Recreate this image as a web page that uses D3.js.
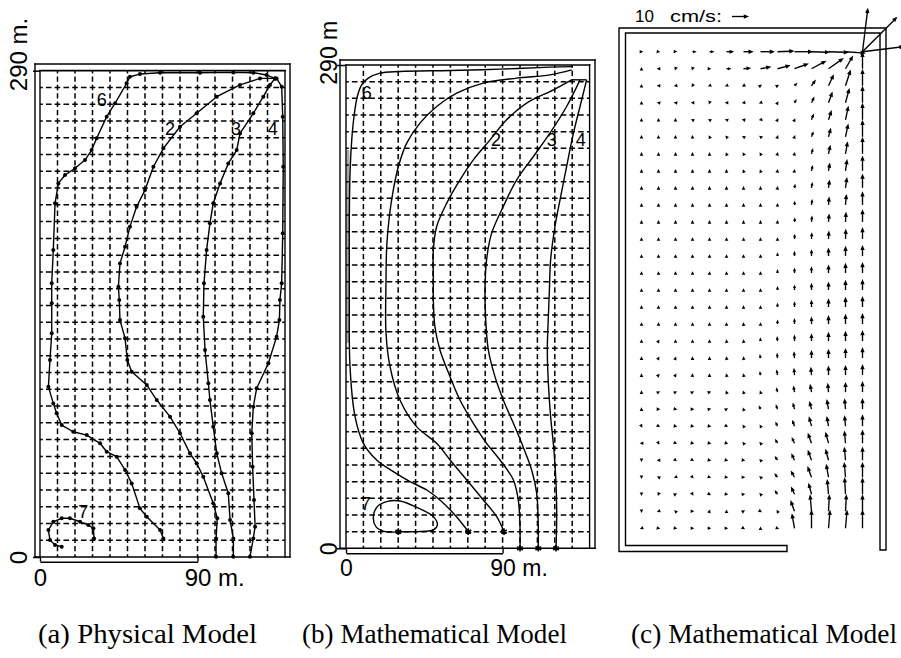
<!DOCTYPE html>
<html>
<head>
<meta charset="utf-8">
<script src="https://cdn.jsdelivr.net/npm/d3@7"></script>
<style>
  html, body { margin: 0; padding: 0; background: #fff; }
  svg { display: block; }
</style>
</head>
<body>
<svg id="fig" width="901" height="658"></svg>
<script>
// ---------------------------------------------------------------
// Float trajectories in the basin, metres: [x across, y along]
// ---------------------------------------------------------------
const physTrack6 = [[70.5,11.1],[68.6,16.1],[61.0,24.0],[57.1,29.0],[52.4,43.9],[48.6,51.9],[43.8,59.8],[38.1,62.8],[34.3,67.8],[26.7,72.7],[19.0,74.7],[12.4,78.7],[9.5,85.7],[7.6,91.6],[4.8,101.6],[5.7,117.5],[6.7,133.4],[6.7,151.3],[6.7,163.2],[7.6,183.1],[8.6,210.9],[10.5,222.8],[14.3,227.8],[20.0,231.8],[25.7,236.7],[29.5,242.7],[32.4,249.7],[38.1,262.6],[42.9,270.6],[49.5,282.5],[51.4,286.4],[57.1,288.0],[68.6,288.8],[91.4,288.8],[110.5,289.0],[121.9,288.8],[129.5,287.4],[134.3,285.4]];
const physTrack2 = [[100.6,0.2],[100.6,11.1],[101.3,23.1],[99.0,32.0],[93.3,47.9],[89.5,55.9],[85.7,61.8],[80.0,73.8],[74.3,83.7],[66.7,93.6],[61.0,102.6],[52.4,110.5],[49.9,117.5],[48.6,130.4],[45.7,141.3],[45.3,153.3],[44.8,161.2],[45.7,175.1],[48.6,185.0],[51.4,197.0],[55.2,208.9],[60.0,218.8],[64.8,232.7],[70.5,243.7],[80.0,256.6],[89.5,264.6],[101.0,274.5],[114.3,281.5],[125.7,285.4],[134.3,285.4]];
const physTrack3 = [[110.5,0.2],[110.5,11.1],[108.6,22.1],[107.6,38.0],[103.8,49.9],[101.0,61.8],[99.0,77.7],[97.1,93.6],[96.2,103.6],[94.3,123.4],[93.3,143.3],[93.7,163.2],[95.2,183.1],[97.1,199.0],[99.0,210.9],[102.9,222.8],[107.6,234.7],[112.4,242.7],[114.3,252.6],[121.9,264.6],[127.6,274.5],[131.4,281.5],[134.3,285.4]];
const physTrack4 = [[120.0,0.2],[121.9,11.1],[122.9,18.1],[122.3,34.0],[121.5,53.8],[121.0,73.8],[121.9,89.6],[123.8,100.6],[130.5,115.5],[135.2,131.4],[136.8,141.3],[137.1,153.3],[138.1,163.2],[138.7,193.0],[139.0,232.7],[138.7,262.6],[138.1,280.5],[135.2,285.4]];
const physTrack7 = [[30.9,11.1],[30.5,17.1],[27.6,19.1],[22.9,21.0],[17.1,23.1],[12.4,23.1],[7.6,21.0],[4.8,16.1],[5.7,10.1],[8.6,7.2],[12.4,6.1]];

const mathTrack6 = [[70.3,10.0],[67.4,14.0],[61.7,21.0],[54.0,29.0],[46.4,35.0],[36.8,40.0],[27.2,46.0],[17.6,53.0],[10.0,63.0],[5.2,79.0],[2.3,109.0],[1.9,149.0],[1.9,165.1],[1.9,195.1],[2.3,225.1],[3.3,245.1],[4.6,259.1],[6.5,271.1],[9.0,278.1],[12.8,282.1],[19.5,285.1],[31.0,286.1],[59.8,286.7],[88.5,287.5],[117.2,288.7],[130.3,289.0]];
const mathTrack5 = [[90.8,10.0],[86.6,19.0],[78.9,29.0],[69.4,41.0],[59.8,53.0],[52.1,63.0],[40.6,73.0],[31.0,89.0],[25.3,109.0],[23.0,129.0],[23.0,161.1],[23.4,181.1],[24.9,199.1],[27.2,215.1],[30.1,229.1],[34.9,243.1],[42.5,255.1],[52.1,265.1],[63.6,273.1],[78.9,279.1],[98.1,282.1],[117.2,284.1],[129.7,287.1]];
const mathTrack2 = [[100.0,0],[100.0,13.0],[99.0,29.0],[96.2,41.0],[88.5,53.0],[80.8,63.0],[73.2,75.0],[65.5,89.0],[59.8,103.0],[54.0,119.0],[51.1,133.0],[50.2,149.0],[50.2,161.1],[50.2,179.1],[52.1,193.1],[57.9,207.1],[65.5,221.1],[73.2,233.1],[82.8,245.1],[92.3,257.1],[103.8,267.1],[119.2,275.1],[129.7,281.1]];
const mathTrack3 = [[110.5,0],[110.5,13.0],[109.6,33.0],[106.7,47.0],[101.0,63.0],[96.2,75.0],[90.4,89.0],[85.6,103.0],[81.8,119.0],[80.2,139.0],[79.9,155.1],[80.8,173.1],[83.7,189.1],[90.4,205.1],[98.1,221.1],[107.7,235.1],[117.2,249.1],[126.8,265.1],[134.5,281.1]];
const mathTrack4 = [[120.7,0],[121.1,19.0],[120.7,39.0],[119.5,59.0],[117.6,79.0],[116.3,99.0],[115.7,119.0],[116.3,139.0],[116.9,155.1],[117.6,173.1],[120.1,193.1],[123.0,209.1],[126.8,229.1],[130.7,249.1],[134.5,265.1],[138.3,281.1]];
const mathTrack7 = [[30.1,10.0],[40.6,10.0],[50.2,11.0],[52.5,14.0],[50.2,19.0],[40.6,24.6],[31.0,28.4],[23.4,28.0],[18.0,25.0],[15.7,19.0],[17.2,13.0],[22.4,10.0],[30.1,10.0]];
const mathInletBar = [[129.7,281.1],[138.3,281.1]];

// Track labels: text and anchor point (metres)
const physLabels = [["6",35.3,272.9],["2",74.3,255.8],["3",112.0,255.8],["4",133.0,255.8],["7",24.7,27.0]];
const mathLabels = [["6",11.9,273.6],["2",86.2,245.1],["3",118.2,245.1],["4",134.9,245.1],["7",11.4,26.6]];

// Axis ticks
const xTickValues = [0, 90];
const xTickLabels = ["0", "90 m."];
const yTickValues = [0, 290];
const yTickLabelsA = ["0", "290 m."];
const yTickLabelsB = ["0", "290 m"];

// ---------------------------------------------------------------
// Computed velocity field: cell centres (m), speed (cm/s),
// direction (degrees clockwise from up-basin)
// ---------------------------------------------------------------
const gridXm = [5,15,25,35,45,55,65,75,85,95,105,115,125,135];
const gridYm = [285,275,265,255,245,235,225,215,205,195,185,175,165,155,145,135,125,115,105,95,85,75,65,55,45,35,25,15,5];
const speedRows = [
  [1,1.5,2,2.5,3,4.5,6,8.5,10,11,11,12,12,26],
  [0.8,0.8,0.8,0.8,1.5,3,4.5,6.5,8,9,10,11,9,10],
  [0.8,0.8,0.8,0.8,0.8,0.8,0.8,1,1.5,2.5,4.5,7.5,10,10],
  [0.8,0.8,0.8,0.8,0.8,0.8,0.8,0.8,1,2.5,4,7,9,10],
  [0.8,0.8,0.8,0.8,0.8,0.8,0.8,0.8,1,2,4,6,8.5,10],
  [0.8,0.8,0.8,0.8,0.8,0.8,0.8,0.8,1,2,3.5,5.5,8,10],
  [0.8,0.8,0.8,0.8,0.8,0.8,0.8,0.8,1,1.8,3.5,5.5,7.5,10],
  [0.8,0.8,0.8,0.8,0.8,0.8,0.8,0.8,1.2,2,3.5,5,7,9],
  [0.8,0.8,0.8,0.8,0.8,0.8,0.8,1,1.3,2.5,3.5,5,6.5,8.5],
  [0.8,0.8,0.8,0.8,0.8,0.8,0.8,1,1.5,2.5,3.5,5,6.5,8],
  [0.8,0.8,0.8,0.8,0.8,0.8,1,1.2,1.8,2.8,3.8,5,6,7.5],
  [0.8,0.8,0.8,0.8,0.8,0.8,1,1.3,2,3,4,5,6,7],
  [0.8,0.8,0.8,0.8,0.8,1,1.2,1.5,2.2,3,4,5,6,6.5],
  [0.8,0.8,0.8,0.8,0.8,1,1.2,1.6,2.3,3.2,4,5,6,6.5],
  [0.8,0.8,0.8,0.8,0.8,1,1.3,1.7,2.4,3.3,4.2,5,6,6.5],
  [0.8,0.8,0.8,0.8,0.8,1,1.3,1.8,2.5,3.4,4.3,5.2,6,6.5],
  [0.8,0.8,0.8,0.8,1,1.2,1.5,2,2.7,3.5,4.5,5.3,6,6.5],
  [0.8,0.8,0.8,0.8,1,1.2,1.6,2.2,3,3.8,4.6,5.5,6,6.5],
  [0.8,0.8,0.8,0.8,1,1.2,1.7,2.4,3.2,4,4.8,5.5,6,6.5],
  [0.8,0.8,0.8,0.8,1,1.3,1.8,2.5,3.4,4.3,5,5.7,6,6.5],
  [0.8,0.8,0.8,0.8,0.8,1,1.5,2,3,4,5,5.5,6,6.5],
  [0.8,0.8,0.8,0.8,0.8,0.8,1.5,2.5,3,4,5,6,6.5,6.5],
  [0.8,0.8,0.8,0.8,0.8,0.8,1.2,2,3,4,6,6,6.5,7],
  [0.8,0.8,0.8,0.8,0.8,0.8,1,1.5,3,4,6.5,7,7.5,8],
  [0.8,0.8,0.8,0.8,0.8,0.8,0.8,1.5,3,4.5,6.5,7,8,8],
  [0.8,0.8,0.8,0.8,0.8,0.8,0.8,1.5,3,4.5,7,8,9,9],
  [0.8,0.8,0.8,0.8,0.8,0.8,0.8,1.5,3,5,7,9,10,10],
  [0.8,0.8,0.8,0.8,0.8,0.8,0.8,0.8,2,7,10,10,10,10],
  [0.8,0.8,0.8,0.8,0.8,0.8,0.8,0.8,0.8,9,11,11,11,11]
];
const angleRows = [
  [90,100,95,90,90,90,90,90,88,90,92,92,94,7],
  [0,270,200,200,90,90,85,80,75,70,62,55,30,0],
  [0,270,260,210,250,250,240,60,60,45,35,25,18,0],
  [0,280,280,270,200,270,260,250,30,30,25,20,15,0],
  [0,0,0,300,300,290,280,260,30,25,20,18,12,0],
  [0,0,0,0,330,320,300,310,20,20,20,15,12,0],
  [0,0,0,0,0,340,330,330,15,15,15,12,10,0],
  [0,0,0,0,0,0,340,340,10,15,12,10,8,0],
  [0,0,0,0,0,0,0,0,10,10,10,8,8,0],
  [0,0,0,0,0,0,0,0,5,5,8,5,5,0],
  [0,0,0,0,0,0,0,0,5,5,5,5,3,0],
  [0,0,0,0,0,0,0,0,0,3,3,3,2,0],
  [0,0,0,0,0,0,0,0,0,0,0,0,0,0],
  [0,0,0,0,0,0,0,0,0,0,0,0,0,0],
  [0,0,0,0,0,0,0,0,0,0,0,0,0,0],
  [0,0,0,0,0,0,0,0,0,0,0,0,0,0],
  [0,0,0,0,0,0,-5,0,0,0,0,0,0,0],
  [0,30,0,0,0,-10,-10,-5,-5,0,0,0,0,0],
  [0,30,20,0,0,-10,-10,-10,-5,-5,0,0,0,0],
  [0,40,30,10,0,-15,-15,-10,-10,-5,-5,0,0,0],
  [0,60,60,60,70,-20,-20,-20,-15,-10,-10,-5,0,0],
  [0,90,100,90,80,60,-20,-25,-20,-15,-15,-10,-5,0],
  [150,120,100,100,100,120,-30,-30,-25,-20,-15,-10,-5,0],
  [270,150,120,100,100,100,-40,-40,-30,-25,-20,-15,-5,0],
  [180,270,130,120,100,100,100,-45,-35,-25,-20,-15,-5,0],
  [180,300,250,140,110,100,90,-50,-40,-30,-20,-10,-5,0],
  [180,200,60,150,120,100,80,-40,-35,-25,-15,-5,-3,0],
  [180,250,320,90,20,0,60,120,-30,-20,-5,3,3,0],
  [250,100,100,90,90,90,120,0,110,-10,0,5,5,0]
];
// extra jets leaving the inlet cell (top-right corner)
const inletJets = [[29,45],[25,83]];
const refSpeed = 10;

const captions = ["(a) Physical Model", "(b) Mathematical Model", "(c) Mathematical Model"];

// ---------------------------------------------------------------
const svg = d3.select("#fig");
const ink = "#000";
svg.append("rect").attr("width", 901).attr("height", 658).attr("fill", "#fff");

const xA = d3.scaleLinear().domain([0, 140]).range([40, 285]);
const yA = d3.scaleLinear().domain([0, 290]).range([557, 70.7]);
const xB = d3.scaleLinear().domain([0, 140]).range([346, 589.6]);
const yB = d3.scaleLinear().domain([0, 290]).range([548.3, 65]);
const xC = d3.scaleLinear().domain([0, 140]).range([633, 871]);
const yC = d3.scaleLinear().domain([0, 290]).range([536.8, 43.2]);
const speedPx = d3.scaleLinear().domain([0, 10]).range([0, 17]);

function seg(g, x1, y1, x2, y2, w) {
  g.append("line").attr("x1", x1).attr("y1", y1).attr("x2", x2).attr("y2", y2)
    .attr("stroke", ink).attr("stroke-width", w || 1.4).attr("stroke-linecap", "square");
}

// dashed 10 m grid inside a basin
function dashedGrid(g, xS, yS) {
  const cw = xS(10) - xS(0), ch = yS(0) - yS(10);
  const gx = d3.range(10, 140, 10), gy = d3.range(10, 290, 10);
  const ph = cw / 2, pv = ch / 2;
  g.append("g").selectAll("line").data(gx).join("line")
    .attr("x1", d => xS(d)).attr("x2", d => xS(d))
    .attr("y1", yS(290)).attr("y2", yS(0))
    .attr("stroke", ink).attr("stroke-width", 1.5)
    .attr("stroke-dasharray", `${pv * 0.64},${pv * 0.36}`)
    .attr("stroke-dashoffset", pv * 0.32);
  g.append("g").selectAll("line").data(gy).join("line")
    .attr("x1", xS(0)).attr("x2", xS(140))
    .attr("y1", d => yS(d)).attr("y2", d => yS(d))
    .attr("stroke", ink).attr("stroke-width", 1.5)
    .attr("stroke-dasharray", `${ph * 0.64},${ph * 0.36}`)
    .attr("stroke-dashoffset", ph * 0.32);
}

// double-walled basin outline
function basinFrame(g, xS, yS, gapL, gapT, gapR) {
  const L = xS(0), R = xS(140), T = yS(290), B = yS(0);
  seg(g, L - gapL, B, R + gapR, B);
  seg(g, L - gapL, T - gapT, R + gapR, T - gapT);
  seg(g, L - gapL, T - gapT, L - gapL, B);
  seg(g, R + gapR, T - gapT, R + gapR, B);
  seg(g, L, T, L, B);
  seg(g, L, T, R, T, 1.7);
  seg(g, R, T, R, B);
}

function axes(g, xS, yS, opt) {
  const bar = d3.scaleLinear().domain([0, 90]).range([xS(0), xS(90)]);
  const ax = g.append("g").attr("transform", `translate(0,${yS(0) + opt.barGap})`)
    .call(d3.axisBottom(bar).tickValues(xTickValues).tickSizeInner(-opt.barGap).tickSizeOuter(0)
      .tickPadding(opt.xPad).tickFormat((d, i) => xTickLabels[i]));
  ax.select(".domain").attr("stroke", ink).attr("stroke-width", 1.4);
  ax.selectAll(".tick line").attr("stroke", ink).attr("stroke-width", 1.4);
  ax.attr("font-family", "'Liberation Sans', Arial, sans-serif").attr("font-size", opt.fs);
  ax.selectAll(".tick text").attr("fill", ink).attr("text-anchor", "start")
    .attr("x", d => -String(d).length * 0.278 * opt.fs);

  const ay = g.append("g").attr("transform", `translate(${xS(0)},0)`)
    .call(d3.axisLeft(yS).tickValues(yTickValues).tickSize(opt.ytick).tickSizeOuter(0)
      .tickFormat((d, i) => opt.yLabels[i]));
  ay.select(".domain").remove();
  ay.selectAll(".tick line").attr("stroke", ink).attr("stroke-width", 1.5);
  ay.attr("font-family", "'Liberation Sans', Arial, sans-serif").attr("font-size", opt.fs);
  ay.selectAll(".tick text").attr("fill", ink).attr("text-anchor", "start")
    .attr("y", 0).attr("dy", 0)
    .attr("x", d => -String(d).length * 0.278 * opt.fs)
    .attr("transform", `translate(${-opt.ylabOff},0) rotate(-90)`);
}

function trackLabels(g, xS, yS, labels, fs) {
  g.append("g").selectAll("text").data(labels).join("text")
    .attr("x", d => xS(d[1])).attr("y", d => yS(d[2]))
    .attr("dy", "0.36em").attr("text-anchor", "middle")
    .attr("font-family", "'Liberation Sans', Arial, sans-serif").attr("font-size", fs)
    .attr("fill", ink).text(d => d[0]);
}

// ---------------- (a) physical model ----------------
const gA = svg.append("g");
dashedGrid(gA, xA, yA);
basinFrame(gA, xA, yA, 5, 6.7, 5);
axes(gA, xA, yA, { barGap: 4.7, xPad: 7, fs: 24, ytick: 7, ylabOff: 13, yLabels: yTickLabelsA });

const lineA = d3.line().x(d => xA(d[0])).y(d => yA(d[1]));
[physTrack6, physTrack2, physTrack3, physTrack4, physTrack7].forEach(tr => {
  gA.append("path").attr("d", lineA(tr)).attr("fill", "none")
    .attr("stroke", ink).attr("stroke-width", 1.4).attr("stroke-linejoin", "round");
  gA.append("g").selectAll("circle").data(tr).join("circle")
    .attr("cx", d => xA(d[0])).attr("cy", d => yA(d[1])).attr("r", 2).attr("fill", ink);
});
trackLabels(gA, xA, yA, physLabels, 18);

// ---------------- (b) mathematical model ----------------
const gB = svg.append("g");
gB.append("rect").attr("x", xB(0) + 0.6).attr("y", 150).attr("width", 2.8).attr("height", 193).attr("fill", "#a8a8a8");
dashedGrid(gB, xB, yB);
basinFrame(gB, xB, yB, 6, 5, 5.4);
axes(gB, xB, yB, { barGap: 5, xPad: 6.5, fs: 23, ytick: 9, ylabOff: 9, yLabels: yTickLabelsB });

const lineB = d3.line().x(d => xB(d[0])).y(d => yB(d[1])).curve(d3.curveCatmullRom.alpha(0.5));
[mathTrack6, mathTrack5, mathTrack2, mathTrack3, mathTrack4, mathTrack7].forEach(tr => {
  gB.append("path").attr("d", lineB(tr)).attr("fill", "none")
    .attr("stroke", ink).attr("stroke-width", 1.4);
});
gB.append("path").attr("d", d3.line().x(d => xB(d[0])).y(d => yB(d[1]))(mathInletBar))
  .attr("stroke", ink).attr("stroke-width", 1.4);
const starts = [mathTrack6[0], mathTrack5[0], mathTrack2[0], mathTrack3[0], mathTrack4[0], mathTrack7[0]];
gB.append("g").selectAll("path.star").data(starts).join("path")
  .attr("transform", d => `translate(${xB(d[0])},${yB(d[1])})`)
  .attr("d", d3.symbol(d3.symbolAsterisk, 30))
  .attr("fill", "none").attr("stroke", ink).attr("stroke-width", 1.6);
trackLabels(gB, xB, yB, mathLabels, 18);

// ---------------- (c) velocity vectors ----------------
const gC = svg.append("g");
function drawArrow(g, x0, y0, lenPx, angDeg) {
  const a = angDeg * Math.PI / 180, ux = Math.sin(a), uy = -Math.cos(a);
  const px = -uy, py = ux;
  let hl, hw, tx, ty;
  if (lenPx < 3.6) {
    hl = 3.6; hw = 1.8;
    tx = x0 + ux * hl / 2; ty = y0 + uy * hl / 2;
  } else {
    hl = Math.min(5.2, Math.max(3.6, lenPx * 0.6)); hw = hl * 0.42;
    tx = x0 + ux * lenPx; ty = y0 + uy * lenPx;
    g.append("line").attr("x1", x0).attr("y1", y0)
      .attr("x2", tx - ux * hl * 0.7).attr("y2", ty - uy * hl * 0.7)
      .attr("stroke", ink).attr("stroke-width", 1.35);
  }
  const bx = tx - ux * hl, by = ty - uy * hl;
  g.append("path")
    .attr("d", `M${tx},${ty}L${bx + px * hw},${by + py * hw}L${bx - px * hw},${by - py * hw}Z`)
    .attr("fill", ink);
}
speedRows.forEach((row, r) => row.forEach((s, c) =>
  drawArrow(gC, xC(gridXm[c]), yC(gridYm[r]), speedPx(s), angleRows[r][c])));
inletJets.forEach(j => drawArrow(gC, xC(gridXm[13]), yC(gridYm[0]), speedPx(j[0]), j[1]));

// basin walls with the outlet gap at the lower right
const wall = d3.path();
wall.moveTo(787, 551.5); wall.lineTo(619, 551.5); wall.lineTo(619, 28); wall.lineTo(886, 28); wall.lineTo(886, 550);
wall.lineTo(880, 550); wall.lineTo(880, 33); wall.lineTo(625.5, 33); wall.lineTo(625.5, 545.5); wall.lineTo(787, 545.5);
wall.closePath();
gC.append("path").attr("d", wall.toString()).attr("fill", "none")
  .attr("stroke", ink).attr("stroke-width", 1.4).attr("stroke-linejoin", "miter");

// speed key
gC.append("text").attr("x", 635).attr("y", 21.7)
  .attr("font-family", "'Liberation Sans', Arial, sans-serif").attr("font-size", 17).attr("fill", ink).text("10");
gC.append("text").attr("x", 670).attr("y", 21.7).attr("textLength", 52).attr("lengthAdjust", "spacingAndGlyphs")
  .attr("font-family", "'Liberation Sans', Arial, sans-serif").attr("font-size", 17).attr("fill", ink).text("cm/s:");
drawArrow(gC, 732, 16.5, speedPx(refSpeed), 90);

// ---------------- captions ----------------
const capX = [38, 302, 631], capW = [219, 265, 266];
svg.append("g").selectAll("text").data(captions).join("text")
  .attr("x", (d, i) => capX[i]).attr("y", 643)
  .attr("textLength", (d, i) => capW[i]).attr("lengthAdjust", "spacingAndGlyphs")
  .attr("font-family", "'Liberation Serif', 'Times New Roman', serif").attr("font-size", 27)
  .attr("fill", ink).text(d => d);
</script>
</body>
</html>
